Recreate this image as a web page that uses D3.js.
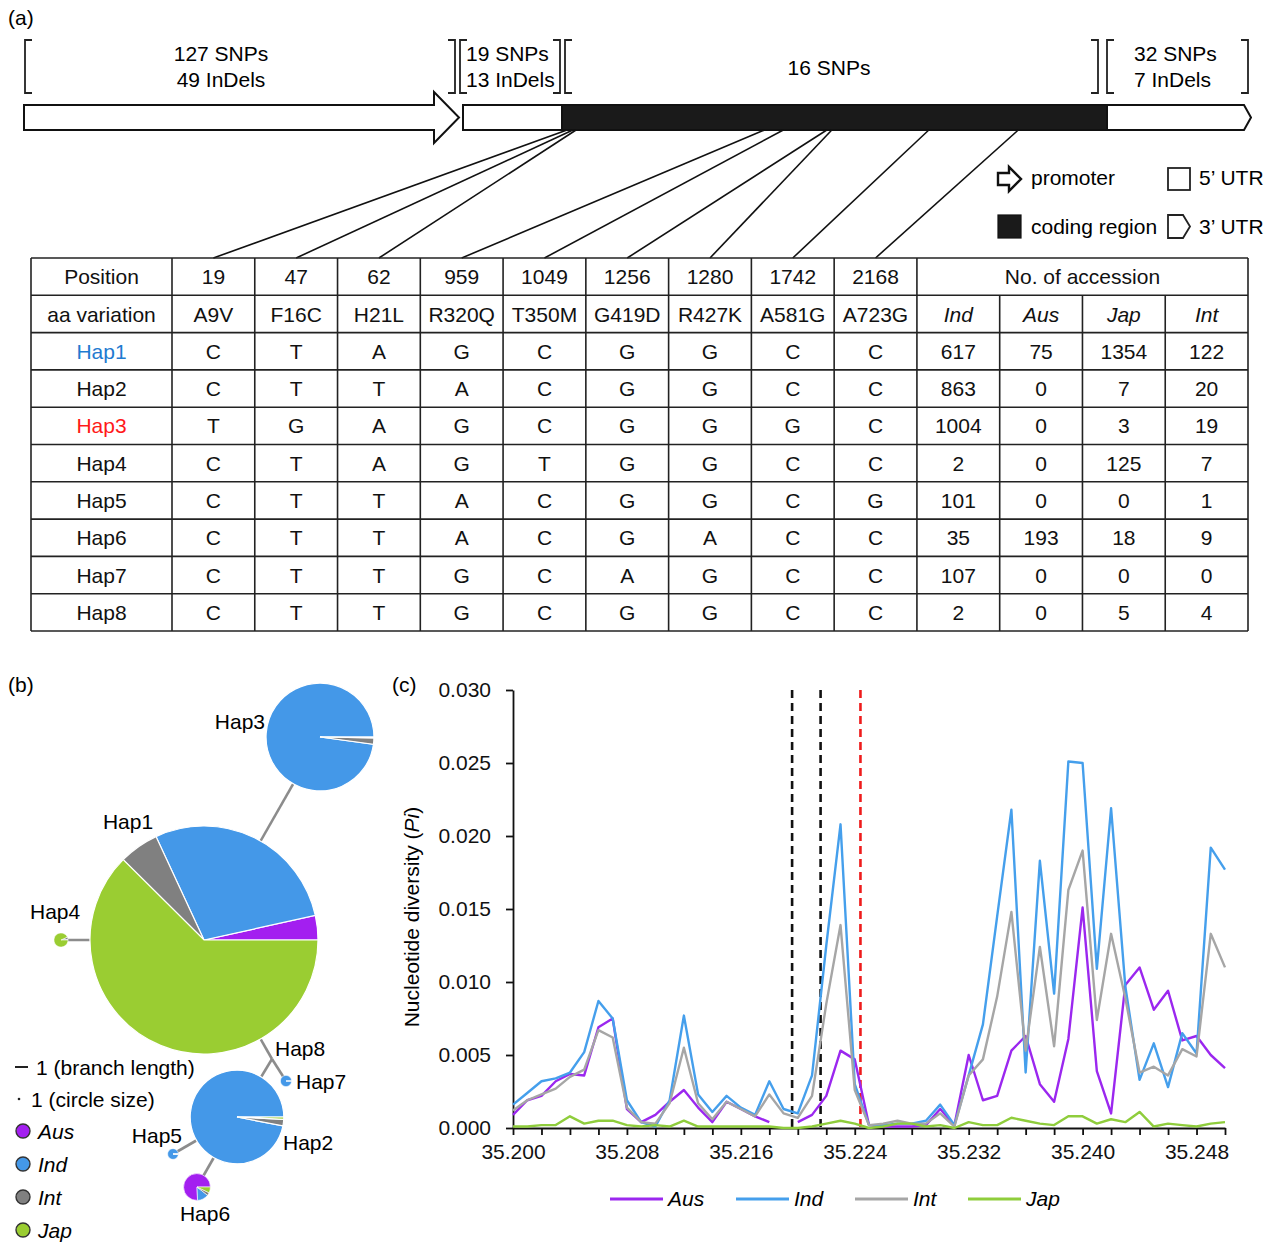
<!DOCTYPE html>
<html>
<head>
<meta charset="utf-8">
<script src="https://cdn.jsdelivr.net/npm/d3@7"></script>
<style>
  body { margin: 0; background: #fff; }
  svg { display: block; font-family: "Liberation Sans", Arial, sans-serif; }
</style>
</head>
<body>
<svg id="fig" width="1277" height="1242"></svg>
<script>
// ---------- data: gene structure (a) ----------
const regionNotes = [["127 SNPs", "49 InDels"], ["19 SNPs", "13 InDels"], ["16 SNPs"], ["32 SNPs", "7 InDels"]];
const snpPositions = [19, 47, 62, 959, 1049, 1256, 1280, 1742, 2168];
const aaVariations = ["A9V", "F16C", "H21L", "R320Q", "T350M", "G419D", "R427K", "A581G", "A723G"];
const haplotypes = ["Hap1", "Hap2", "Hap3", "Hap4", "Hap5", "Hap6", "Hap7", "Hap8"];
const hapAlleles = [
  ["C", "T", "A", "G", "C", "G", "G", "C", "C"],
  ["C", "T", "T", "A", "C", "G", "G", "C", "C"],
  ["T", "G", "A", "G", "C", "G", "G", "G", "C"],
  ["C", "T", "A", "G", "T", "G", "G", "C", "C"],
  ["C", "T", "T", "A", "C", "G", "G", "C", "G"],
  ["C", "T", "T", "A", "C", "G", "A", "C", "C"],
  ["C", "T", "T", "G", "C", "A", "G", "C", "C"],
  ["C", "T", "T", "G", "C", "G", "G", "C", "C"]
];
const groups = ["Ind", "Aus", "Jap", "Int"];
const accInd = [617, 863, 1004, 2, 101, 35, 107, 2];
const accAus = [75, 0, 0, 0, 0, 193, 0, 0];
const accJap = [1354, 7, 3, 125, 0, 18, 0, 5];
const accInt = [122, 20, 19, 7, 1, 9, 0, 4];

// ---------- data: nucleotide diversity (c) ----------
const windowPos = [35.200, 35.201, 35.202, 35.203, 35.204, 35.205, 35.206, 35.207, 35.208, 35.209,
  35.210, 35.211, 35.212, 35.213, 35.214, 35.215, 35.216, 35.217, 35.218, 35.219,
  35.220, 35.221, 35.222, 35.223, 35.224, 35.225, 35.226, 35.227, 35.228, 35.229,
  35.230, 35.231, 35.232, 35.233, 35.234, 35.235, 35.236, 35.237, 35.238, 35.239,
  35.240, 35.241, 35.242, 35.243, 35.244, 35.245, 35.246, 35.247, 35.248, 35.249, 35.250];
const piAus = [0.0009, 0.0019, 0.0022, 0.0032, 0.0037, 0.0036, 0.0069, 0.0075, 0.0013, 0.0004,
  0.0009, 0.0018, 0.0026, 0.0014, 0.0004, 0.0018, 0.0013, 0.0008, 0.0004, null,
  0.0004, 0.0009, 0.0022, 0.0053, 0.0047, 0.0002, 0.0001, 0.0001, 0.0001, 0.0002,
  0.0013, 0.0002, 0.0050, 0.0019, 0.0022, 0.0053, 0.0063, 0.0030, 0.0018, 0.0061,
  0.0151, 0.0039, 0.0010, 0.0098, 0.0110, 0.0081, 0.0094, 0.0060, 0.0063, 0.0050, 0.0041];
const piInd = [0.0016, 0.0024, 0.0032, 0.0034, 0.0038, 0.0052, 0.0087, 0.0075, 0.0019, 0.0004,
  0.0001, 0.0019, 0.0077, 0.0023, 0.0011, 0.0022, 0.0014, 0.0009, 0.0032, 0.0013,
  0.0010, 0.0036, 0.0125, 0.0208, 0.0030, 0.0002, 0.0002, 0.0003, 0.0003, 0.0005,
  0.0016, 0.0002, 0.0036, 0.0071, 0.0145, 0.0218, 0.0038, 0.0183, 0.0092, 0.0251,
  0.0250, 0.0109, 0.0219, 0.0097, 0.0033, 0.0058, 0.0028, 0.0065, 0.0051, 0.0192, 0.0177];
const piInt = [0.0012, 0.0019, 0.0023, 0.0027, 0.0035, 0.0040, 0.0067, 0.0062, 0.0014, 0.0004,
  0.0003, 0.0017, 0.0055, 0.0017, 0.0006, 0.0018, 0.0013, 0.0008, 0.0023, 0.0010,
  0.0007, 0.0022, 0.0085, 0.0139, 0.0026, 0.0002, 0.0003, 0.0005, 0.0003, 0.0003,
  0.0010, 0.0001, 0.0036, 0.0047, 0.0090, 0.0148, 0.0053, 0.0124, 0.0056, 0.0163,
  0.0190, 0.0074, 0.0133, 0.0089, 0.0038, 0.0042, 0.0036, 0.0054, 0.0049, 0.0133, 0.0110];
const piJap = [0.0001, 0.0001, 0.0002, 0.0002, 0.0008, 0.0003, 0.0005, 0.0005, 0.0002, 0.0001,
  0.0002, 0.0001, 0.0005, 0.0001, 0.0001, 0.0001, 0.0001, 0.0001, 0.0001, 0.0000,
  0.0000, 0.0001, 0.0003, 0.0005, 0.0003, 0.0000, 0.0001, 0.0003, 0.0003, 0.0001,
  0.0002, 0.0000, 0.0004, 0.0002, 0.0002, 0.0007, 0.0005, 0.0003, 0.0002, 0.0008,
  0.0008, 0.0003, 0.0006, 0.0004, 0.0011, 0.0001, 0.0003, 0.0002, 0.0001, 0.0003, 0.0004];
const yTickValues = [0, 0.005, 0.010, 0.015, 0.020, 0.025, 0.030];
const xTickLabels = ["35.200", "35.208", "35.216", "35.224", "35.232", "35.240", "35.248"];
const geneMarkers = [35.2196, 35.2216];
const siteMarker = 35.2244;

const FS = "21px";
const svg = d3.select("#fig");
svg.append("rect").attr("width", 1277).attr("height", 1242).attr("fill", "#fff");

// ================= (a) gene structure =================
const A = svg.append("g").style("font-size", FS);
A.append("text").attr("x", 8).attr("y", 25).text("(a)");

const brTop = 40, brBot = 93;
const spans = [[25, 455], [460, 560], [565, 1098], [1107, 1248]];
spans.forEach(([l, r]) => {
  A.append("path").attr("d", `M${l + 7},${brTop}H${l}V${brBot}H${l + 7}`)
    .attr("fill", "none").attr("stroke", "#222").attr("stroke-width", 1.8);
  A.append("path").attr("d", `M${r - 7},${brTop}H${r}V${brBot}H${r - 7}`)
    .attr("fill", "none").attr("stroke", "#222").attr("stroke-width", 1.8);
});
const noteAnchor = [[221, "middle"], [466, "start"], [829, "middle"], [1134, "start"]];
regionNotes.forEach((lines, i) => {
  const [nx, anchor] = noteAnchor[i];
  lines.forEach((t, j) => {
    const y = lines.length === 1 ? 75 : 61 + j * 26;
    A.append("text").attr("x", nx).attr("y", y).attr("text-anchor", anchor).text(t);
  });
});

const barTop = 105, barBot = 130, barMid = (barTop + barBot) / 2;
const cdsStart = 562, cdsEnd = 1107;
A.append("path")
  .attr("d", `M24,${barTop}H434V92L459,${barMid}L434,143V${barBot}H24Z`)
  .attr("fill", "#fff").attr("stroke", "#111").attr("stroke-width", 2);
A.append("rect").attr("x", 463).attr("y", barTop).attr("width", cdsStart - 463).attr("height", barBot - barTop)
  .attr("fill", "#fff").attr("stroke", "#111").attr("stroke-width", 2);
A.append("path")
  .attr("d", `M${cdsEnd},${barTop}H1244L1251,${barMid}L1244,${barBot}H${cdsEnd}Z`)
  .attr("fill", "#fff").attr("stroke", "#111").attr("stroke-width", 2);
A.append("rect").attr("x", cdsStart).attr("y", barTop).attr("width", cdsEnd - cdsStart).attr("height", barBot - barTop)
  .attr("fill", "#1a1a1a").attr("stroke", "#111").attr("stroke-width", 2);

// legend of gene structure
A.append("path").attr("d", "M998,173H1009V167L1021,179L1009,191V185H998Z")
  .attr("fill", "#fff").attr("stroke", "#111").attr("stroke-width", 2.4);
A.append("text").attr("x", 1031).attr("y", 185).text("promoter");
A.append("rect").attr("x", 1168).attr("y", 168).attr("width", 22).attr("height", 22)
  .attr("fill", "#fff").attr("stroke", "#222").attr("stroke-width", 1.8);
A.append("text").attr("x", 1199).attr("y", 185).text("5\u2019 UTR");
A.append("rect").attr("x", 998).attr("y", 215).attr("width", 23).attr("height", 23)
  .attr("fill", "#1a1a1a").attr("stroke", "#111").attr("stroke-width", 1.2);
A.append("text").attr("x", 1031).attr("y", 234).text("coding region");
A.append("path").attr("d", "M1168,215H1183L1190,226.5L1183,238H1168Z")
  .attr("fill", "#fff").attr("stroke", "#222").attr("stroke-width", 1.8);
A.append("text").attr("x", 1199).attr("y", 234).text("3\u2019 UTR");

// ---------- table ----------
const tblLeft = 31, tblRight = 1248, tblTop = 258, tblBot = 631, firstColRight = 172;
const nCols = snpPositions.length + groups.length;
const colX = d3.scaleBand().domain(d3.range(nCols)).range([firstColRight, tblRight]);
const rowY = d3.scaleBand().domain(d3.range(2 + haplotypes.length)).range([tblTop, tblBot]);
const cdsX = d3.scaleLinear().domain([0, 2200]).range([cdsStart + 1, 1025]);

// SNP connector lines
A.append("g").selectAll("line").data(snpPositions).join("line")
  .attr("x1", d => cdsX(d)).attr("y1", barBot)
  .attr("x2", (d, i) => colX(i) + colX.bandwidth() / 2).attr("y2", tblTop)
  .attr("stroke", "#111").attr("stroke-width", 1.6);

const T = A.append("g");
const lineAttr = s => s.attr("stroke", "#222").attr("stroke-width", 1.6);
// horizontal lines
rowY.domain().concat([rowY.domain().length]).forEach(r => {
  const y = r < rowY.domain().length ? rowY(r) : tblBot;
  T.append("line").attr("x1", tblLeft).attr("x2", tblRight).attr("y1", y).attr("y2", y).call(lineAttr);
});
// vertical lines
const vx = [tblLeft, firstColRight].concat(d3.range(1, nCols).map(c => colX(c))).concat([tblRight]);
vx.forEach((x, k) => {
  const merged = k > 1 + snpPositions.length && k < vx.length - 1; // inside "No. of accession"
  T.append("line").attr("x1", x).attr("x2", x)
    .attr("y1", merged ? rowY(1) : tblTop).attr("y2", tblBot).call(lineAttr);
});

const cellText = (x, r, txt, opts = {}) => T.append("text")
  .attr("x", x).attr("y", rowY(r) + rowY.bandwidth() / 2).attr("dy", "0.36em")
  .attr("text-anchor", "middle").attr("fill", opts.fill || "#111")
  .style("font-style", opts.italic ? "italic" : null).text(txt);
const firstColMid = (tblLeft + firstColRight) / 2;
const colMid = c => colX(c) + colX.bandwidth() / 2;

cellText(firstColMid, 0, "Position");
snpPositions.forEach((p, c) => cellText(colMid(c), 0, p));
cellText((colX(snpPositions.length) + tblRight) / 2, 0, "No. of accession");
cellText(firstColMid, 1, "aa variation");
aaVariations.forEach((a, c) => cellText(colMid(c), 1, a));
groups.forEach((g, k) => cellText(colMid(snpPositions.length + k), 1, g, { italic: true }));

const hapNameColor = { Hap1: "#1f7bd0", Hap3: "#ff1a1a" };
const accByGroup = [accInd, accAus, accJap, accInt];
haplotypes.forEach((h, i) => {
  cellText(firstColMid, i + 2, h, { fill: hapNameColor[h] });
  hapAlleles[i].forEach((al, c) => cellText(colMid(c), i + 2, al));
  accByGroup.forEach((arr, k) => cellText(colMid(snpPositions.length + k), i + 2, arr[i]));
});

// ================= (b) haplotype network =================
const B = svg.append("g").style("font-size", FS);
B.append("text").attr("x", 8).attr("y", 692).text("(b)");

const pieColor = { Aus: "#a31ff0", Ind: "#4498e8", Int: "#808080", Jap: "#9acd32" };
const pieOrder = ["Aus", "Ind", "Int", "Jap"];
const hapCounts = haplotypes.map((h, i) => ({
  name: h,
  parts: pieOrder.map(g => ({ g, v: { Aus: accAus, Ind: accInd, Int: accInt, Jap: accJap }[g][i] })),
  total: accAus[i] + accInd[i] + accInt[i] + accJap[i]
}));
const rScale = d3.scaleLinear().domain([0, d3.max(hapCounts, d => d.total)]).range([0, 114]);

// network layout (node centres and label spots)
const nodeXY = {
  Hap1: [204, 940], Hap2: [237, 1117], Hap3: [320, 737], Hap4: [61, 940],
  Hap5: [173, 1154], Hap6: [197, 1187], Hap7: [286, 1081], Hap8: [272, 1059]
};
const labelXY = {
  Hap1: [128, 829, "middle"], Hap2: [283, 1150, "start"], Hap3: [265, 729, "end"], Hap4: [30, 919, "start"],
  Hap5: [182, 1143, "end"], Hap6: [205, 1221, "middle"], Hap7: [296, 1089, "start"], Hap8: [275, 1056, "start"]
};
const edges = [["Hap1", "Hap3"], ["Hap1", "Hap4"], ["Hap1", "Hap8"], ["Hap8", "Hap2"], ["Hap8", "Hap7"],
  ["Hap2", "Hap5"], ["Hap2", "Hap6"]];

B.append("g").selectAll("line").data(edges).join("line")
  .attr("x1", d => nodeXY[d[0]][0]).attr("y1", d => nodeXY[d[0]][1])
  .attr("x2", d => nodeXY[d[1]][0]).attr("y2", d => nodeXY[d[1]][1])
  .attr("stroke", "#8c8c8c").attr("stroke-width", 2.6);

const pie = d3.pie().value(d => d.v).sort(null).startAngle(Math.PI / 2).endAngle(Math.PI / 2 - 2 * Math.PI);
hapCounts.filter(h => h.name !== "Hap8").forEach(h => {
  const r = rScale(h.total);
  const arc = d3.arc().innerRadius(0).outerRadius(r);
  B.append("g").attr("transform", `translate(${nodeXY[h.name]})`)
    .selectAll("path").data(pie(h.parts)).join("path")
    .attr("d", arc).attr("fill", d => pieColor[d.data.g])
    .attr("stroke", "#fff").attr("stroke-width", r > 20 ? 1.2 : 0.6);
});
haplotypes.forEach(h => {
  const [lx, ly, an] = labelXY[h];
  B.append("text").attr("x", lx).attr("y", ly).attr("text-anchor", an).text(h);
});

// legend (b)
B.append("line").attr("x1", 15).attr("x2", 28).attr("y1", 1067).attr("y2", 1067)
  .attr("stroke", "#222").attr("stroke-width", 2);
B.append("text").attr("x", 36).attr("y", 1075).text("1 (branch length)");
B.append("circle").attr("cx", 19).attr("cy", 1099).attr("r", 1.3).attr("fill", "#222");
B.append("text").attr("x", 31).attr("y", 1107).text("1 (circle size)");
groups.slice().sort((a, b) => pieOrder.indexOf(a) - pieOrder.indexOf(b)).forEach((g, i) => {
  const cy = 1131 + i * 33;
  B.append("circle").attr("cx", 23).attr("cy", cy).attr("r", 7)
    .attr("fill", pieColor[g]).attr("stroke", "#333").attr("stroke-width", 1.4);
  B.append("text").attr("x", 38).attr("y", cy + 8).style("font-style", "italic").text(g);
});

// ================= (c) nucleotide diversity =================
const C = svg.append("g").style("font-size", FS);
C.append("text").attr("x", 392).attr("y", 692).text("(c)");

const x = d3.scaleLinear().domain([35.200, 35.250]).range([513, 1225]);
const y = d3.scaleLinear().domain([0, 0.030]).range([1128, 690]);

const xTicks = d3.range(0, 26).map(k => +(35.200 + k * 0.002).toFixed(3));
C.append("g").attr("transform", `translate(0,${y(0)})`)
  .call(d3.axisBottom(x).tickValues(xTicks).tickSizeInner(7).tickSizeOuter(0).tickPadding(9)
    .tickFormat(d => { const s = d3.format(".3f")(d); return xTickLabels.includes(s) ? s : ""; }))
  .call(g => g.selectAll("text").style("font-size", FS).style("font-family", "inherit").attr("fill", "#111"))
  .call(g => g.selectAll("line,path").attr("stroke", "#111").attr("stroke-width", 1.8));

C.append("g").attr("transform", `translate(${x(35.200)},0)`)
  .call(d3.axisLeft(y).tickValues(yTickValues).tickFormat(d3.format(".3f")).tickSizeInner(7).tickSizeOuter(0).tickPadding(15))
  .call(g => g.selectAll("text").style("font-size", FS).style("font-family", "inherit").attr("fill", "#111"))
  .call(g => g.selectAll("line,path").attr("stroke", "#111").attr("stroke-width", 1.8));

const yl = C.append("text").attr("transform", `translate(419,917) rotate(-90)`).attr("text-anchor", "middle");
yl.append("tspan").text("Nucleotide diversity (");
yl.append("tspan").style("font-style", "italic").text("Pi");
yl.append("tspan").text(")");

// gene boundary markers
C.selectAll("line.mk").data(geneMarkers.map(v => ({ v, c: "#111" })).concat([{ v: siteMarker, c: "#ee1c1c" }]))
  .join("line").attr("class", "mk")
  .attr("x1", d => x(d.v)).attr("x2", d => x(d.v)).attr("y1", y(0.030)).attr("y2", y(0))
  .attr("stroke", d => d.c).attr("stroke-width", 2.6).attr("stroke-dasharray", "8,5");

const series = [
  { name: "Aus", values: piAus, color: "#9b27ef" },
  { name: "Ind", values: piInd, color: "#459fec" },
  { name: "Int", values: piInt, color: "#a6a6a6" },
  { name: "Jap", values: piJap, color: "#8fcd3c" }
];
const line = d3.line().defined(d => d[1] !== null).x(d => x(d[0])).y(d => y(d[1]));
C.append("g").selectAll("path").data(series).join("path")
  .attr("d", s => line(windowPos.map((p, i) => [p, s.values[i]])))
  .attr("fill", "none").attr("stroke", s => s.color).attr("stroke-width", 2.4)
  .attr("stroke-linejoin", "round");

// legend (c)
const legX = [610, 736, 855, 968];
series.forEach((s, i) => {
  C.append("line").attr("x1", legX[i]).attr("x2", legX[i] + 53).attr("y1", 1199).attr("y2", 1199)
    .attr("stroke", s.color).attr("stroke-width", 3);
  C.append("text").attr("x", legX[i] + 58).attr("y", 1206).style("font-style", "italic").text(s.name);
});
</script>
</body>
</html>
